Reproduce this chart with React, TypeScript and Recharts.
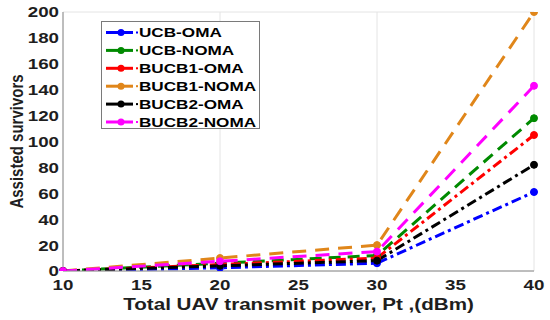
import React from "react";
import { LineChart, Line, XAxis, YAxis, CartesianGrid } from "recharts";

const xValues = [10, 20, 30, 40];
const ucbOma = [0, 2.5, 6, 61];
const ucbNoma = [0, 6, 12, 118];
const bucb1Oma = [0, 5, 10, 105];
const bucb1Noma = [0, 10, 20, 200];
const bucb2Oma = [0, 4, 8, 82];
const bucb2Noma = [0, 7.5, 15, 143];

const seriesNames = ["UCB-OMA", "UCB-NOMA", "BUCB1-OMA", "BUCB1-NOMA", "BUCB2-OMA", "BUCB2-NOMA"];
const seriesValues = [ucbOma, ucbNoma, bucb1Oma, bucb1Noma, bucb2Oma, bucb2Noma];
const seriesColors = ["#0000ff", "#008a00", "#ff0000", "#e0861a", "#000000", "#ff00ff"];
const seriesDash = ["10 4 3 4", "12 7", "10 4 3 4", "14 9", "10 4 3 4", "14 9"];

const xTicks = [10, 15, 20, 25, 30, 35, 40];
const yTicks = [0, 20, 40, 60, 80, 100, 120, 140, 160, 180, 200];

const xLabel = "Total UAV transmit power, Pt ,(dBm)";
const yLabel = "Assisted survivors";

const data = xValues.map((x, i) => {
  const row: Record<string, number> = { x };
  seriesNames.forEach((n, k) => {
    row[n] = seriesValues[k][i];
  });
  return row;
});

const FONT = "'Liberation Sans', Arial, sans-serif";
const SX = 1.25;
const TXT = "#1e1e1e";

const XTick = (props: any) => {
  const { x, y, payload } = props;
  return (
    <text
      transform={`translate(${x},${y}) scale(${SX},1)`}
      textAnchor="middle"
      dy="0.71em"
      fontFamily={FONT}
      fontWeight="bold"
      fontSize={15}
      fill={TXT}
    >
      {payload.value}
    </text>
  );
};

const YTick = (props: any) => {
  const { x, y, payload } = props;
  return (
    <text
      transform={`translate(${x},${y}) scale(${SX},1)`}
      textAnchor="end"
      dy="0.36em"
      fontFamily={FONT}
      fontWeight="bold"
      fontSize={15}
      fill={TXT}
    >
      {payload.value}
    </text>
  );
};

const Empty = () => <g />;

const Legend = () => (
  <svg
    width={159}
    height={108}
    style={{ position: "absolute", left: 101, top: 21 }}
  >
    <rect x={0.5} y={0.5} width={158} height={107} fill="#ffffff" stroke="#7a7a7a" strokeWidth={1} />
    {seriesNames.map((n, i) => {
      const cy = 11.5 + i * 17.9;
      return (
        <g key={n}>
          <line x1={5} x2={32} y1={cy} y2={cy} stroke={seriesColors[i]} strokeWidth={3} />
          <circle cx={20} cy={cy} r={3.5} fill={seriesColors[i]} />
          <rect x={35} y={cy - 1} width={2} height={2} fill={seriesColors[i]} />
          <text
            transform={`translate(38,${cy}) scale(1.27,1)`}
            dy="0.36em"
            fontFamily={FONT}
            fontWeight="bold"
            fontSize={13.5}
            fill="#000000"
          >
            {n}
          </text>
        </g>
      );
    })}
  </svg>
);

export default function App() {
  return (
    <div style={{ position: "absolute", left: 0, top: 0, width: 550, height: 320, background: "#fff" }}>
      <LineChart
        width={550}
        height={320}
        data={data}
        margin={{ top: 12, right: 16, left: 0, bottom: 0 }}
      >
        <CartesianGrid stroke="#e4e4e4" strokeWidth={1} />
        <XAxis
          xAxisId="b"
          dataKey="x"
          type="number"
          domain={[10, 40]}
          ticks={xTicks}
          height={49}
          tickSize={8}
          tickMargin={0}
          tickLine={false}
          axisLine={{ stroke: "#8a8a8a" }}
          tick={<XTick />}
          label={{
            content: (p: any) => {
              const vb = p.viewBox || { x: 63, width: 471 };
              return (
                <text
                  transform={`translate(${vb.x + vb.width / 2},310) scale(${SX},1)`}
                  textAnchor="middle"
                  fontFamily={FONT}
                  fontWeight="bold"
                  fontSize={16.5}
                  fill={TXT}
                >
                  {xLabel}
                </text>
              );
            },
          }}
        />
        <XAxis
          xAxisId="t"
          orientation="top"
          dataKey="x"
          type="number"
          domain={[10, 40]}
          ticks={xTicks}
          height={0}
          mirror
          tickSize={5}
          tickLine={{ stroke: "#8a8a8a" }}
          axisLine={{ stroke: "#8a8a8a" }}
          tick={<Empty />}
        />
        <YAxis
          yAxisId="l"
          type="number"
          domain={[0, 200]}
          ticks={yTicks}
          width={63}
          tickSize={4}
          tickMargin={0}
          tickLine={false}
          axisLine={{ stroke: "#8a8a8a" }}
          tick={<YTick />}
          allowDataOverflow
          label={{
            content: (p: any) => {
              const vb = p.viewBox || { y: 12, height: 259 };
              return (
                <text
                  transform={`translate(16,${vb.y + vb.height / 2}) rotate(-90) scale(1,${SX})`}
                  textAnchor="middle"
                  dy="0.36em"
                  fontFamily={FONT}
                  fontWeight="bold"
                  fontSize={15}
                  fill={TXT}
                >
                  {yLabel}
                </text>
              );
            },
          }}
        />
        <YAxis
          yAxisId="r"
          orientation="right"
          type="number"
          domain={[0, 200]}
          ticks={yTicks}
          width={0}
          mirror
          tickSize={5}
          tickLine={{ stroke: "#8a8a8a" }}
          axisLine={{ stroke: "#8a8a8a" }}
          tick={<Empty />}
        />
        {seriesNames.map((n, i) => (
          <Line
            key={n}
            xAxisId="b"
            yAxisId="l"
            type="linear"
            dataKey={n}
            stroke={seriesColors[i]}
            strokeWidth={3}
            strokeDasharray={seriesDash[i]}
            dot={{ r: 3.5, fill: seriesColors[i], stroke: seriesColors[i], strokeWidth: 1, strokeDasharray: "" }}
            isAnimationActive={false}
          />
        ))}
      </LineChart>
      <Legend />
    </div>
  );
}
